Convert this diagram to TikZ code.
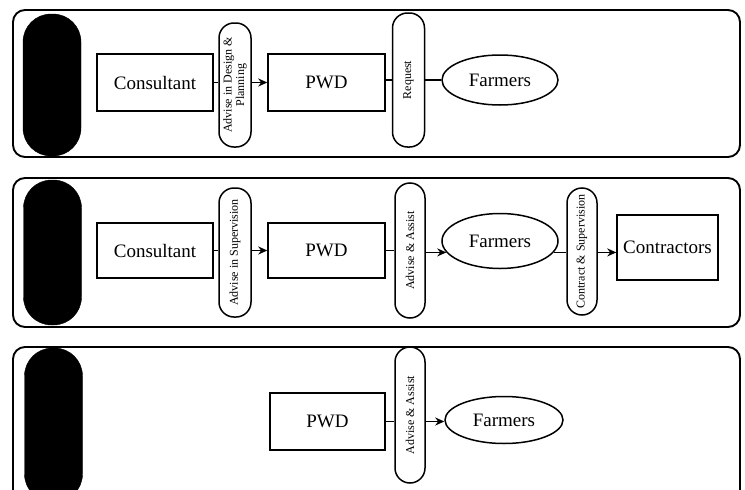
\documentclass[tikz,border=0pt]{standalone}
\usepackage{fontspec}
\setmainfont{Liberation Serif}
\usepackage{tikz}
\usetikzlibrary{arrows.meta,shapes.geometric}

\begin{document}
\begin{tikzpicture}[
  x=1pt, y=-1pt,
  frame/.style={draw, line width=1.9pt, rounded corners=12pt},
  lvl/.style={fill=black, draw=black, rounded corners=28pt, minimum width=58pt, inner sep=0pt},
  unit/.style={draw, line width=1.5pt, minimum width=116pt, minimum height=57pt, inner sep=2pt,
               font=\fontsize{19}{21}\selectfont},
  grp/.style={draw, line width=1.5pt, ellipse, minimum width=116pt, minimum height=50pt, inner sep=0pt,
              font=\fontsize{19}{21}\selectfont},
  act/.style={draw, line width=1.5pt, rounded corners=15pt, rotate=90, minimum height=32pt,
              inner sep=1pt, align=center, font=\fontsize{12}{12.5}\selectfont},
  ln/.style={line width=1.5pt},
  ar/.style={line width=1.5pt, -{Stealth[length=9pt, width=8pt]}}
]
\useasboundingbox (0,0) rectangle (745,490);
\clip (0,0) rectangle (745,490);

% design and planning
\draw[frame] (13,10) rectangle (740,157);
\node[lvl, minimum height=142pt] (blackA) at (52,85) {};
\node[unit] (consA) at (155,82.5) {Consultant};
\node[act, minimum width=124pt] (pillA1) at (235,85) {Advise in Design \&\\ Planning};
\node[unit, minimum width=117pt] (pwdA) at (326.5,82.5) {PWD};
\node[act, minimum width=134pt] (pillA2) at (408.5,80) {Request};
\node[grp] (farmA) at (500,80) {Farmers};
\draw[ln] (consA.east) -- (consA.east -| pillA1.north);
\draw[ar] (pillA1.south |- pwdA.west) -- (pwdA.west);
\draw[ln] (pwdA.east |- farmA.west) -- (farmA.west -| pillA2.north);
\draw[ln] (pillA2.south |- farmA.west) -- (farmA.west);

% supervision
\draw[frame] (13,178) rectangle (740,327);
\node[lvl, minimum height=145pt] (blackB) at (52.5,252.5) {};
\node[unit, minimum height=55pt] (consB) at (155,250.5) {Consultant};
\node[act, minimum width=129pt] (pillB1) at (235,252.5) {Advise in Supervision};
\node[unit, minimum width=117pt, minimum height=55pt] (pwdB) at (326.5,250.5) {PWD};
\node[act, minimum width=135pt, minimum height=30pt] (pillB2) at (410,250.5) {Advise \& Assist};
\node[grp, minimum height=55pt] (farmB) at (500,241) {Farmers};
\node[act, minimum width=127pt, minimum height=30pt] (pillB3) at (582,251.5) {Contract \& Supervision};
\node[unit, minimum width=101pt, minimum height=65pt] (contB) at (667.5,247.5) {Contractors};
\draw[ln] (consB.east) -- (consB.east -| pillB1.north);
\draw[ar] (pillB1.south |- pwdB.west) -- (pwdB.west);
\draw[ln] (pwdB.east) -- (pwdB.east -| pillB2.north);
\draw[ar] (pillB2.south |- farmB.192) -- (farmB.192);
\draw[ln] (farmB.348) -- (farmB.348 -| pillB3.north);
\draw[ar] (pillB3.south |- farmB.348) -- (contB.west |- farmB.348);

% advise only
\draw[frame] (13,347) rectangle (740,505);
\node[lvl, minimum height=154pt] (blackC) at (53.5,425) {};
\node[unit, minimum width=115pt] (pwdC) at (327.5,421.5) {PWD};
\node[act, minimum width=136pt, minimum height=30pt] (pillC) at (410,415) {Advise \& Assist};
\node[grp, minimum width=118pt, minimum height=47pt] (farmC) at (504,420) {Farmers};
\draw[ln] (pwdC.east) -- (pwdC.east -| pillC.north);
\draw[ar] (pillC.south |- pwdC.east) -- (farmC.west |- pwdC.east);
\end{tikzpicture}
\end{document}
